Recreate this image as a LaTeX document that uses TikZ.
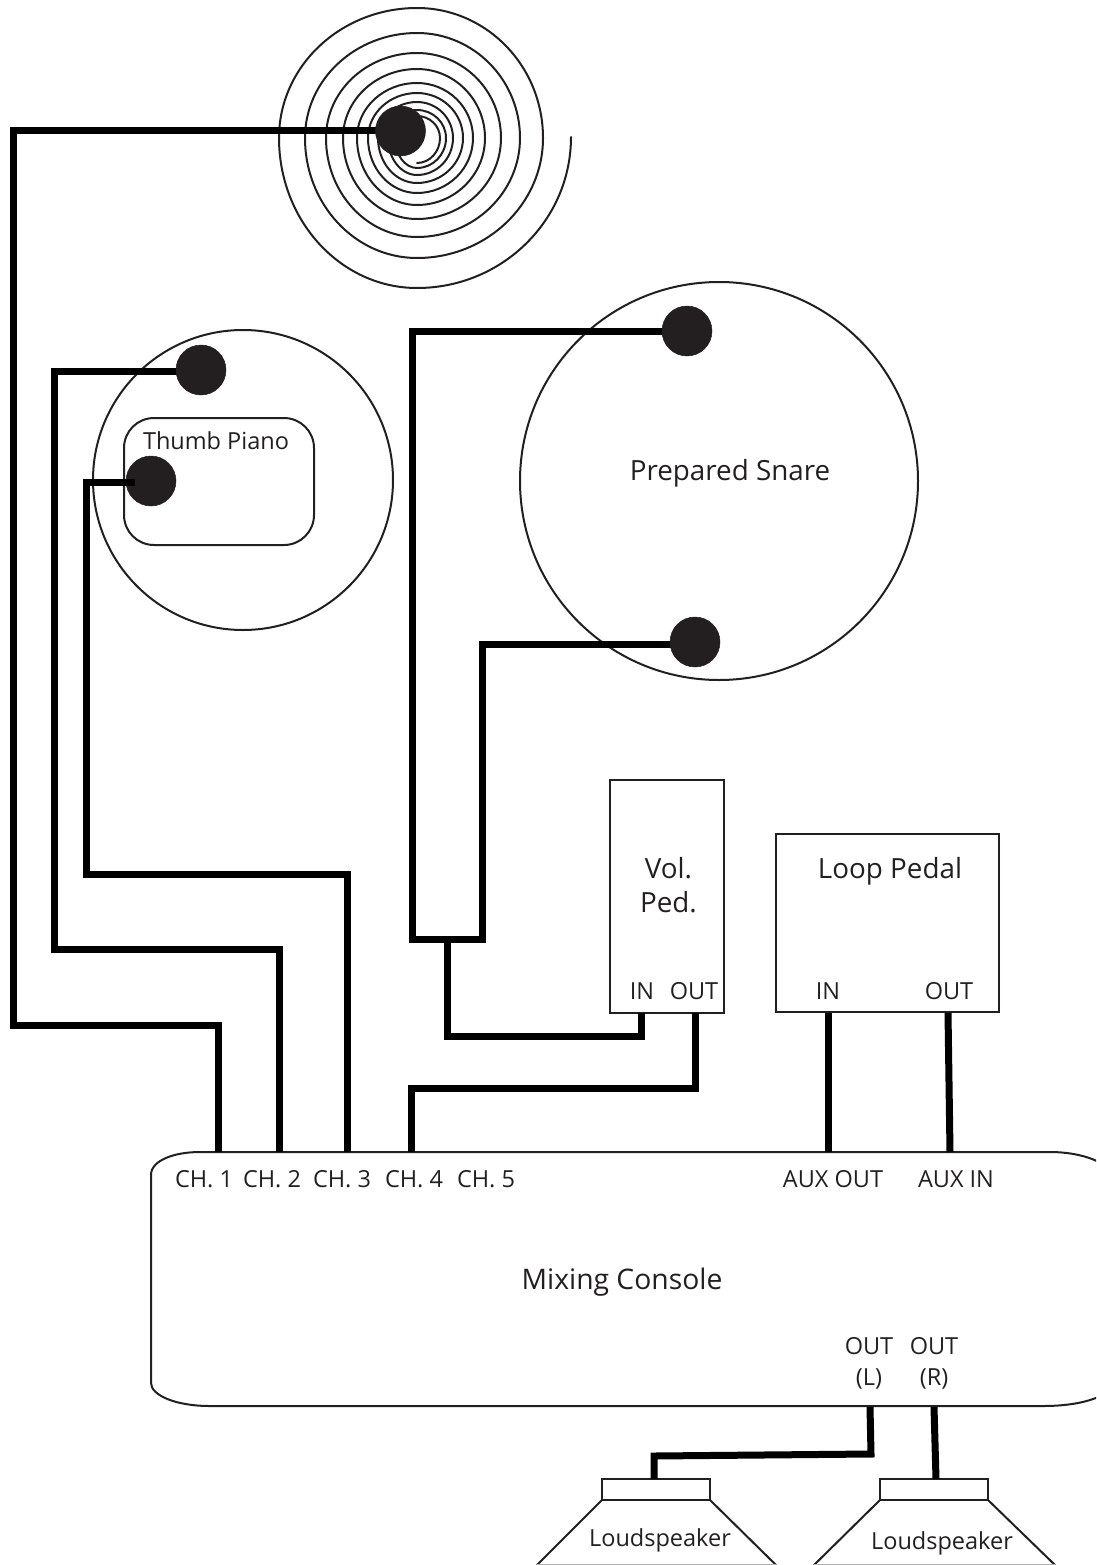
\documentclass[tikz,border=0pt]{standalone}
\usepackage{fontspec}
\setmainfont{Open Sans}
\definecolor{ink}{HTML}{231F20}
\tikzset{
  outline/.style={draw=ink,line width=2pt,inner sep=0pt,outer sep=0pt},
  cable/.style={draw=black,line width=7pt,line join=miter},
  pickup/.style={circle,fill=ink,draw=ink,line width=0.5pt,minimum size=50pt,inner sep=0pt},
  lbl/.style={font=\fontsize{#1}{#1}\selectfont,text=ink,inner sep=0pt,align=center},
  lbl/.default=23.5
}
\begin{document}
\begin{tikzpicture}[x=1pt,y=-1pt]
\useasboundingbox (0,0) rectangle (1096,1565);
\clip (0,0) rectangle (1096,1565);
% spiral: one quarter turn per step
\foreach \x/\y [count=\i, remember=\x as \xp (initially 571), remember=\y as \yp (initially 137)] in {
417/288,279/138,417/8,543/138,417/258,305/138,417/33,520/138,417/237,
326/138,417/53,501/138,417/219,343/138,417/69,485/138,417/205,357/138,417/83,
473/138,417/193,368/138,417/93,463/138,417/183,378/138,417/102,453/138,417/175,
388/138,417/110,446/138,417/168,395/138,417/116,440/138,417/163}{
  \ifodd\i
    \draw[draw=ink,line width=2pt,line cap=round] (\xp,\yp) .. controls ({\xp},{\yp+0.5523*(\y-\yp)}) and ({\x+0.5523*(\xp-\x)},{\y}) .. (\x,\y);
  \else
    \draw[draw=ink,line width=2pt,line cap=round] (\xp,\yp) .. controls ({\xp+0.5523*(\x-\xp)},{\yp}) and ({\x},{\y+0.5523*(\yp-\y)}) .. (\x,\y);
  \fi
}
% instruments
\node[outline,circle,minimum size=300pt] (thumbdrum) at (243,480) {};
\node[outline,rounded corners=30pt,minimum width=190pt,minimum height=127pt] (thumbbox) at (219,481.5) {};
\node[lbl=23.5] (thumblabel) at (216,441) {Thumb Piano};
\node[outline,circle,minimum size=398pt] (snare) at (719,481) {};
\node[lbl=27.8] (snarelabel) at (730,473) {Prepared Snare};
% pedals
\node[outline,minimum width=114pt,minimum height=233pt] (vol) at (667,896.5) {};
\node[lbl=27.8,align=center] (vollabel) at (668.5,885) {Vol.\\[6pt]Ped.};
\node[lbl=23.5] (volin) at (642,991) {IN};
\node[lbl=23.5] (volout) at (694,991) {OUT};
\node[outline,minimum width=223pt,minimum height=178pt] (loop) at (887.5,923) {};
\node[lbl=27.8] (looplabel) at (890,871) {Loop Pedal};
\node[lbl=23.5] (loopin) at (828,991) {IN};
\node[lbl=23.5] (loopout) at (949,991) {OUT};
% console
\draw[draw=ink,line width=2pt] (151,1175)
  .. controls (151,1160) and (175,1152) .. (200,1152) -- (1050,1152)
  .. controls (1085,1152) and (1120,1165) .. (1120,1190) -- (1120,1370)
  .. controls (1120,1395) and (1085,1406) .. (1043,1406) -- (210,1406)
  .. controls (175,1406) and (151,1395) .. (151,1383) -- cycle;
\node[lbl=23.5] (ch1) at (204,1179) {CH. 1};
\node[lbl=23.5] (ch2) at (272,1179) {CH. 2};
\node[lbl=23.5] (ch3) at (342,1179) {CH. 3};
\node[lbl=23.5] (ch4) at (414,1179) {CH. 4};
\node[lbl=23.5] (ch5) at (486,1179) {CH. 5};
\node[lbl=23.5] (auxout) at (833,1179) {AUX OUT};
\node[lbl=23.5] (auxin) at (956,1179) {AUX IN};
\node[lbl=28.3] (mixlabel) at (622,1282) {Mixing Console};
\node[lbl=23.5] (outl) at (869,1346) {OUT};
\node[lbl=23.5] (outr) at (934,1346) {OUT};
\node[lbl=23.5] (l) at (869,1379) {(L)};
\node[lbl=23.5] (r) at (934,1379) {(R)};
% speakers
\node[outline,minimum width=108pt,minimum height=21pt] (spkboxa) at (656,1489.5) {};
\node[outline,minimum width=108pt,minimum height=21pt] (spkboxb) at (934,1489.5) {};
\draw[draw=ink,line width=2pt] (spkboxa.south west) -- (537,1565) (spkboxa.south east) -- (776,1565);
\draw[draw=ink,line width=2pt] (spkboxb.south west) -- (814,1565) (spkboxb.south east) -- (1055,1565);
\draw[draw=ink!35,line width=1pt] (537,1564.5) -- (776,1564.5) (814,1564.5) -- (1055,1564.5);
\node[lbl=23.5] (spka) at (660,1540) {Loudspeaker};
\node[lbl=23.5] (spkb) at (942,1543) {Loudspeaker};
% cable waypoints
\coordinate (ch1top) at (218,1152);
\coordinate (ch2top) at (279,1152);
\coordinate (ch3top) at (347,1152);
\coordinate (ch4top) at (411,1152);
\coordinate (volinb) at (641,1013);
\coordinate (voloutb) at (695,1013);
\coordinate (split) at (447,939);
% pickup under its cable
\node[pickup] (pb) at (151,481) {};
% cables
\draw[cable] (400,131) -- (13,131) -- (13,1025) -- (218,1025) -- (ch1top);
\draw[cable] (201,371) -- (54,371) -- (54,949) -- (279,949) -- (ch2top);
\draw[cable] (135,482) -- (86,482) -- (86,874) -- (347,874) -- (ch3top);
\draw[cable] (687,331) -- (412,331) -- (412,939) -- (482,939) -- (482,644) -- (695,644);
\draw[cable] (split) -- (447,1036) -- (641,1036) -- (volinb);
\draw[cable] (voloutb) -- (695,1088) -- (411,1088) -- (ch4top);
\draw[cable] (828,1013) -- (828,1152);
\draw[cable] (948,1013) -- (950,1152);
\draw[cable] (870,1407) -- (871,1454) -- (654,1456) -- (654,1479);
\draw[cable] (934,1407) -- (936,1479);
% pickups
\node[pickup] (ps) at (400.5,131) {};
\node[pickup] (pa) at (201,370) {};
\node[pickup] (pc) at (687,331) {};
\node[pickup] (pd) at (695,642) {};
\end{tikzpicture}
\end{document}
